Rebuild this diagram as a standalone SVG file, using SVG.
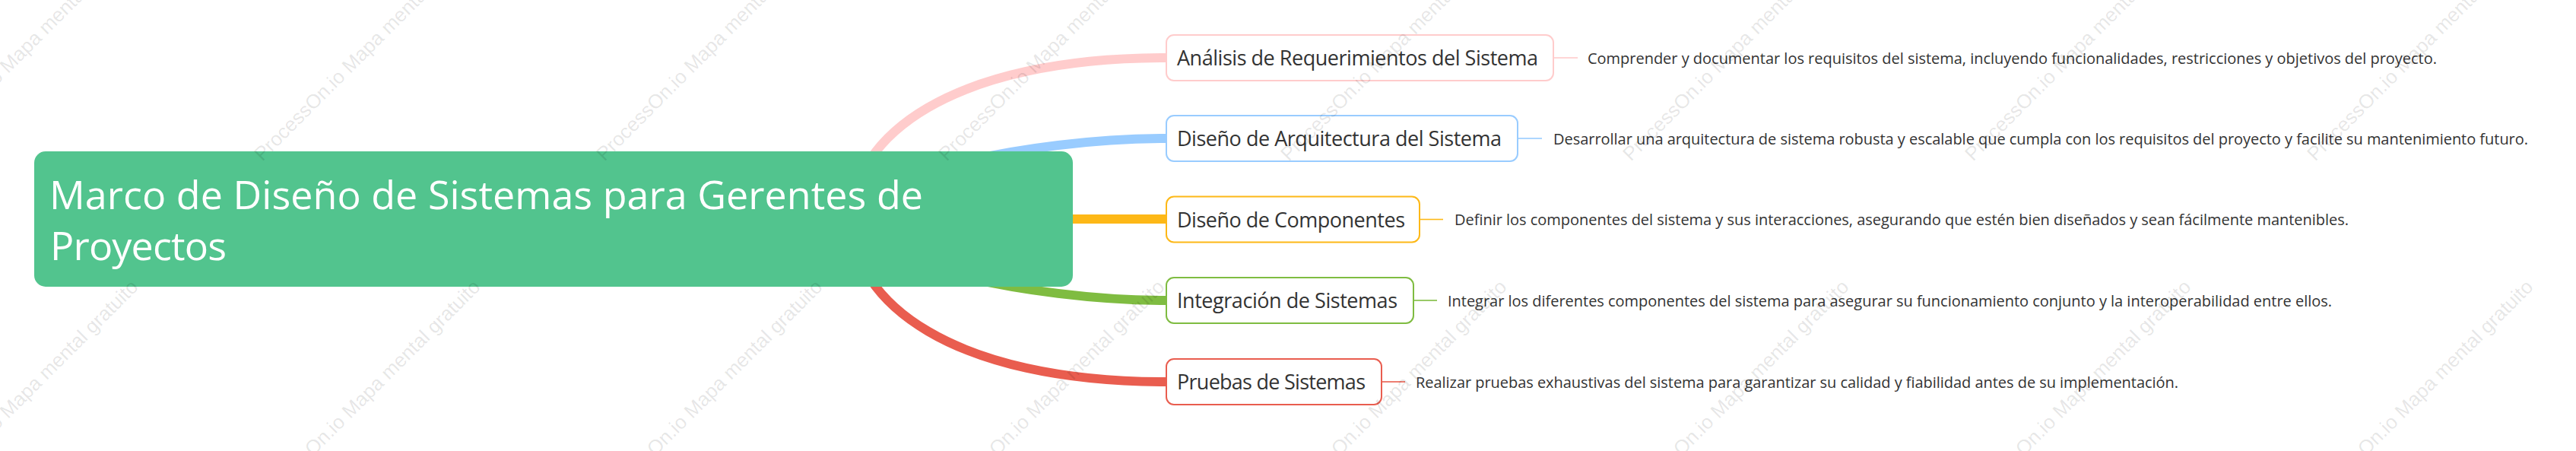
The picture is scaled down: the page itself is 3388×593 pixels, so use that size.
<svg xmlns="http://www.w3.org/2000/svg" width="3388" height="593" viewBox="0 0 3388 593">
<style>
.bg{fill:#ffffff}
.conn{fill:none;stroke-width:12;stroke-linecap:butt}
.leaf{fill:none;stroke-width:1.6}
.box{fill:#ffffff;stroke-width:2}
.lbl{font-family:"Open Sans","Noto Sans","Liberation Sans",sans-serif;font-size:27px;fill:#333333}
.desc{font-family:"Open Sans","Noto Sans","Liberation Sans",sans-serif;font-size:20px;fill:#333333}
.root-t{font-family:"Open Sans","Noto Sans","Liberation Sans",sans-serif;font-size:52px;fill:#ffffff}
.wm{font-family:"Liberation Sans",Arial,sans-serif;font-size:26px;fill:#000000;fill-opacity:0.11}
</style>
<rect class="bg" x="0" y="0" width="3388" height="593"/>
<g id="connectors">
<path class="conn" stroke="#FFCCCC" d="M1120,288 C1120,180 1250,76 1534,76"/>
<path class="conn" stroke="#99CCFF" d="M1120,288 C1120,234 1350,182 1534,182"/>
<path class="conn" stroke="#FDB817" d="M1120,288 L1534,288"/>
<path class="conn" stroke="#7FBC41" d="M1120,288 C1120,342 1350,395 1534,395"/>
<path class="conn" stroke="#E95D4F" d="M1120,288 C1120,396 1250,502 1534,502"/>
<path class="leaf" stroke="#FFCCCC" d="M2044,76 L2075,76"/>
<path class="leaf" stroke="#99CCFF" d="M1997,182 L2028,182"/>
<path class="leaf" stroke="#FDB817" d="M1868,288.5 L1898,288.5"/>
<path class="leaf" stroke="#7FBC41" d="M1860,395 L1890,395"/>
<path class="leaf" stroke="#E95D4F" d="M1818,502 L1848,502"/>
</g>
<g id="root">
<rect x="45" y="199" width="1366" height="178" rx="15" ry="15" fill="#52C48E"/>
<text class="root-t" x="65" y="275" textLength="1149">Marco de Diseño de Sistemas para Gerentes de</text>
<text class="root-t" x="66" y="342" textLength="232">Proyectos</text>
</g>
<g id="node-analisis">
<rect class="box" x="1534" y="46" width="509" height="60" rx="10" ry="10" stroke="#FFCCCC"/>
<text class="lbl" x="1548" y="86" textLength="475">Análisis de Requerimientos del Sistema</text>
</g>
<g id="desc-analisis">
<text class="desc" x="2088" y="83.5" textLength="1117">Comprender y documentar los requisitos del sistema, incluyendo funcionalidades, restricciones y objetivos del proyecto.</text>
</g>
<g id="node-arquitectura">
<rect class="box" x="1534" y="152" width="462" height="60" rx="10" ry="10" stroke="#99CCFF"/>
<text class="lbl" x="1548" y="192" textLength="427">Diseño de Arquitectura del Sistema</text>
</g>
<g id="desc-arquitectura">
<text class="desc" x="2043" y="190" textLength="1282">Desarrollar una arquitectura de sistema robusta y escalable que cumpla con los requisitos del proyecto y facilite su mantenimiento futuro.</text>
</g>
<g id="node-componentes">
<rect class="box" x="1534" y="258.5" width="333" height="60" rx="10" ry="10" stroke="#FDB817"/>
<text class="lbl" x="1548" y="298.5" textLength="300">Diseño de Componentes</text>
</g>
<g id="desc-componentes">
<text class="desc" x="1913" y="296" textLength="1176">Definir los componentes del sistema y sus interacciones, asegurando que estén bien diseñados y sean fácilmente mantenibles.</text>
</g>
<g id="node-integracion">
<rect class="box" x="1534" y="365" width="325" height="60" rx="10" ry="10" stroke="#7FBC41"/>
<text class="lbl" x="1548" y="405" textLength="290">Integración de Sistemas</text>
</g>
<g id="desc-integracion">
<text class="desc" x="1904" y="402.5" textLength="1163">Integrar los diferentes componentes del sistema para asegurar su funcionamiento conjunto y la interoperabilidad entre ellos.</text>
</g>
<g id="node-pruebas">
<rect class="box" x="1534" y="472" width="283" height="60" rx="10" ry="10" stroke="#E95D4F"/>
<text class="lbl" x="1548" y="512" textLength="248">Pruebas de Sistemas</text>
</g>
<g id="desc-pruebas">
<text class="desc" x="1862" y="509.5" textLength="1003">Realizar pruebas exhaustivas del sistema para garantizar su calidad y fiabilidad antes de su implementación.</text>
</g>
<g id="watermarks">
<text class="wm" transform="translate(-105,213) rotate(-45)">ProcessOn.io Mapa mental gratuito</text>
<text class="wm" transform="translate(345,213) rotate(-45)">ProcessOn.io Mapa mental gratuito</text>
<text class="wm" transform="translate(795,213) rotate(-45)">ProcessOn.io Mapa mental gratuito</text>
<text class="wm" transform="translate(1245,213) rotate(-45)">ProcessOn.io Mapa mental gratuito</text>
<text class="wm" transform="translate(1695,213) rotate(-45)">ProcessOn.io Mapa mental gratuito</text>
<text class="wm" transform="translate(2145,213) rotate(-45)">ProcessOn.io Mapa mental gratuito</text>
<text class="wm" transform="translate(2595,213) rotate(-45)">ProcessOn.io Mapa mental gratuito</text>
<text class="wm" transform="translate(3045,213) rotate(-45)">ProcessOn.io Mapa mental gratuito</text>
<text class="wm" transform="translate(-105,667) rotate(-45)">ProcessOn.io Mapa mental gratuito</text>
<text class="wm" transform="translate(345,667) rotate(-45)">ProcessOn.io Mapa mental gratuito</text>
<text class="wm" transform="translate(795,667) rotate(-45)">ProcessOn.io Mapa mental gratuito</text>
<text class="wm" transform="translate(1245,667) rotate(-45)">ProcessOn.io Mapa mental gratuito</text>
<text class="wm" transform="translate(1695,667) rotate(-45)">ProcessOn.io Mapa mental gratuito</text>
<text class="wm" transform="translate(2145,667) rotate(-45)">ProcessOn.io Mapa mental gratuito</text>
<text class="wm" transform="translate(2595,667) rotate(-45)">ProcessOn.io Mapa mental gratuito</text>
<text class="wm" transform="translate(3045,667) rotate(-45)">ProcessOn.io Mapa mental gratuito</text>
</g>
</svg>
